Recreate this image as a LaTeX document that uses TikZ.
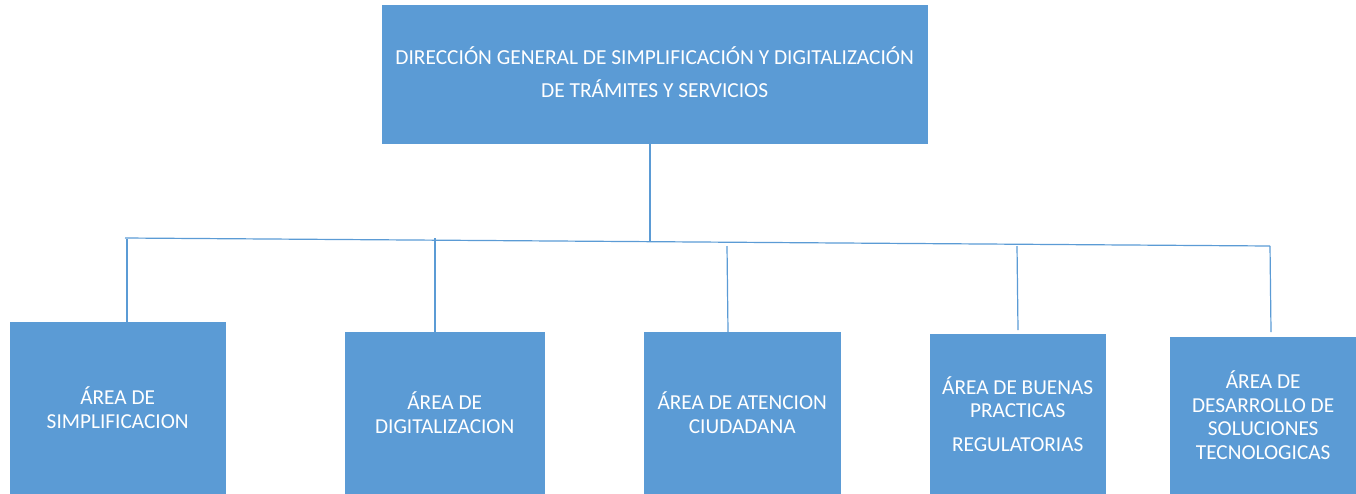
\documentclass[tikz,border=0pt]{standalone}
\usepackage{fontspec}
\setmainfont{Carlito}
\definecolor{boxblue}{HTML}{5B9BD5}
\tikzset{
  orgbox/.style={draw=boxblue, fill=boxblue, text=white, anchor=north west, inner sep=0pt, align=center, font=\fontsize{21.3}{23.5}\selectfont},
  link/.style={draw=boxblue, line width=1.2pt}
}
\begin{document}
\begin{tikzpicture}[x=1pt,y=-1pt]
\useasboundingbox (0,0) rectangle (1356,493);
% top box
\node[orgbox, minimum width=545pt, minimum height=138pt, font=\fontsize{21.4}{33}\selectfont] (top) at (382,5)
  {DIRECCIÓN GENERAL DE SIMPLIFICACIÓN Y DIGITALIZACIÓN\\DE TRÁMITES Y SERVICIOS\\[-29pt]\mbox{}};
% bottom boxes
\node[orgbox, minimum width=215pt, minimum height=171pt] (b1) at (10,322) {ÁREA DE\\SIMPLIFICACION};
\node[orgbox, minimum width=199pt, minimum height=161pt] (b2) at (345,332) {ÁREA DE\\DIGITALIZACION};
\node[orgbox, minimum width=196pt, minimum height=161pt] (b3) at (644,332) {ÁREA DE ATENCION\\CIUDADANA};
\node[orgbox, minimum width=175pt, minimum height=159pt] (b4) at (930,334) {ÁREA DE BUENAS\\PRACTICAS\\[10pt]REGULATORIAS};
\node[orgbox, minimum width=186pt, minimum height=156pt] (b5) at (1170,337) {ÁREA DE\\DESARROLLO DE\\SOLUCIONES\\TECNOLOGICAS};
% bus
\coordinate (hL) at (125,238);
\coordinate (hR) at (1270,246);
\coordinate (t0) at (650,143);
\coordinate (t1) at (650,241.5);
\coordinate (j1) at (127,239);
\coordinate (j2) at (435,238);
\coordinate (j3) at (727,246);
\coordinate (j4) at (1017,246);
\coordinate (j5) at (1270,246);
\draw[link] (hL) -- (hR);
\draw[link] (t0) -- (t1);
\draw[link] (j1) -- (127,322);
\draw[link] (j2) -- (435,332);
\draw[link] (j3) -- (728,332);
\draw[link] (j4) -- (1018,330);
\draw[link] (j5) -- (1271,332);
\end{tikzpicture}
\end{document}
